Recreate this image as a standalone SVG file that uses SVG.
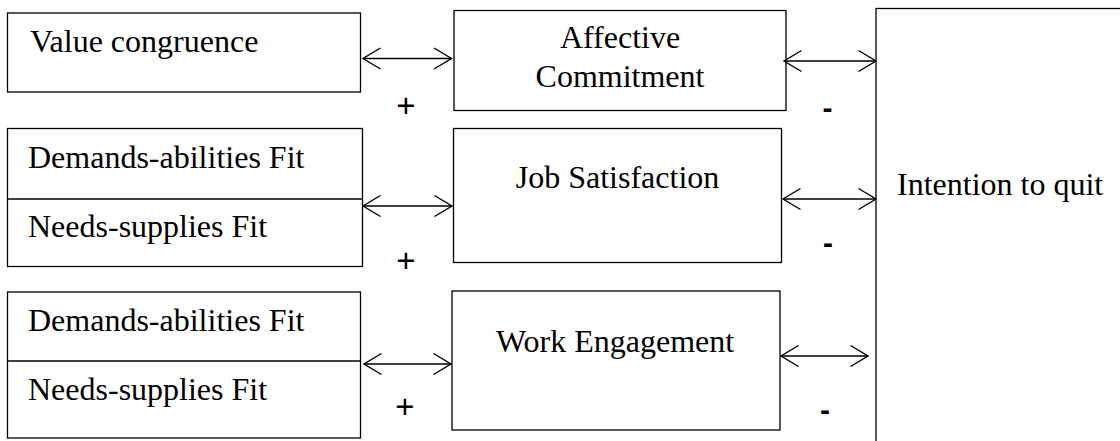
<svg xmlns="http://www.w3.org/2000/svg" width="1120" height="441" viewBox="0 0 1120 441">
  <defs>
    <marker id="head" markerUnits="userSpaceOnUse" markerWidth="24" markerHeight="26" viewBox="-20 -13 24 26" refX="0" refY="0" orient="auto-start-reverse" overflow="visible">
      <path d="M-17.5,-10.5 L0,0 L-17.5,10.5" fill="none" stroke="#000" stroke-width="1.4"/>
    </marker>
    <style>
      .box { fill: #fff; stroke: #000; stroke-width: 1.3; }
      .div { stroke: #000; stroke-width: 1.3; }
      .t { font-family: "Liberation Serif", "Times New Roman", serif; font-size: 32px; fill: #000; }
      .mid { text-anchor: middle; }
      .plus { font-family: "Liberation Sans", Arial, sans-serif; font-size: 33px; fill: #000; text-anchor: middle; }
      .minus { font-family: "Liberation Sans", Arial, sans-serif; font-weight: bold; font-size: 30px; fill: #000; text-anchor: middle; }
      .conn { stroke: #000; stroke-width: 1.4; fill: none; marker-start: url(#head); marker-end: url(#head); }
    </style>
  </defs>
  <rect width="1120" height="441" fill="#fff"/>

  <g id="value-congruence">
    <rect class="box" x="7.5" y="13" width="353" height="79"/>
    <text class="t" x="30" y="52">Value congruence</text>
  </g>

  <g id="fit-group-1">
    <rect class="box" x="7.5" y="128.5" width="355" height="138"/>
    <line class="div" x1="7.5" y1="199" x2="362.5" y2="199"/>
    <text class="t" x="28" y="168">Demands-abilities Fit</text>
    <text class="t" x="28" y="237">Needs-supplies Fit</text>
  </g>

  <g id="fit-group-2">
    <rect class="box" x="7.5" y="292" width="353" height="146"/>
    <line class="div" x1="7.5" y1="361" x2="360.5" y2="361"/>
    <text class="t" x="28" y="331">Demands-abilities Fit</text>
    <text class="t" x="28" y="400">Needs-supplies Fit</text>
  </g>

  <g id="affective-commitment">
    <rect class="box" x="454" y="10.5" width="332" height="100"/>
    <text class="t mid" x="620" y="48">Affective</text>
    <text class="t mid" x="620" y="87">Commitment</text>
  </g>

  <g id="job-satisfaction">
    <rect class="box" x="453.5" y="128.5" width="328" height="134"/>
    <text class="t mid" x="617.5" y="188">Job Satisfaction</text>
  </g>

  <g id="work-engagement">
    <rect class="box" x="452" y="291" width="328" height="139"/>
    <text class="t mid" x="615" y="352">Work Engagement</text>
  </g>

  <g id="intention-to-quit">
    <rect class="box" x="876" y="8.5" width="300" height="500"/>
    <text class="t" x="897" y="195">Intention to quit</text>
  </g>

  <g id="connectors">
    <line class="conn" x1="363" y1="58.5" x2="451.5" y2="58.5"/>
    <line class="conn" x1="784" y1="61" x2="876" y2="61"/>
    <line class="conn" x1="363" y1="206" x2="452" y2="206"/>
    <line class="conn" x1="783" y1="199" x2="876" y2="199"/>
    <line class="conn" x1="364" y1="364" x2="451" y2="364"/>
    <line class="conn" x1="781" y1="356" x2="868" y2="356"/>
  </g>

  <g id="signs">
    <text class="plus" x="406" y="117">+</text>
    <text class="plus" x="406" y="272">+</text>
    <text class="plus" x="405" y="418">+</text>
    <text class="minus" x="827.5" y="118">-</text>
    <text class="minus" x="828" y="253">-</text>
    <text class="minus" x="825" y="419.5">-</text>
  </g>
</svg>
